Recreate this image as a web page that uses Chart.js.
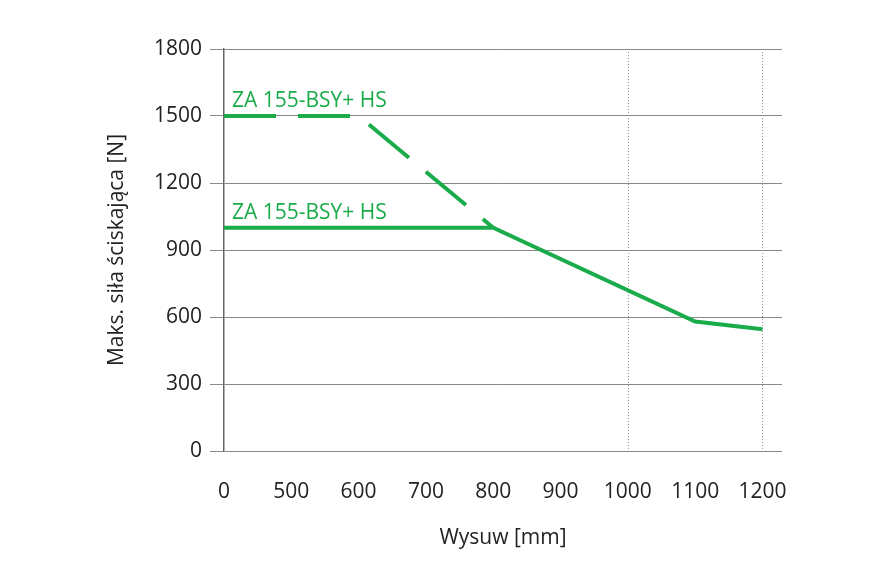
<!DOCTYPE html>
<html><head><meta charset="utf-8">
<script src="https://cdn.jsdelivr.net/npm/chart.js@4"></script>
<style>html,body{margin:0;background:#fff}#w{width:885px;height:575px}</style>
</head><body><div id="w"><canvas id="c"></canvas></div>
<script>
const xTickLabels = ['0','500','600','700','800','900','1000','1100','1200'];
const yTicks = [0,300,600,900,1200,1500,1800];
const solidX = [0, 4, 7, 8];          // index positions on x axis
const solidY = [1000, 1000, 580, 545];
const dashedX = [0, 2, 4];
const dashedY = [1500, 1500, 1000];
const seriesLabel = 'ZA 155-BSY+ HS';
const dottedGridIdx = [6, 8];
const green = '#1aab4a';
const font = "'Open Sans', 'Noto Sans', sans-serif";

const extra = {
  id:'extra',
  beforeDatasetsDraw(ch){
    const {ctx, chartArea:a, scales:{x}} = ch;
    ctx.save(); ctx.strokeStyle='#999'; ctx.lineWidth=1; ctx.setLineDash([1,2]);
    dottedGridIdx.forEach(i=>{const px=Math.round(x.getPixelForValue(i))+0.5;
      ctx.beginPath(); ctx.moveTo(px,a.top); ctx.lineTo(px,a.bottom); ctx.stroke();});
    ctx.restore();
  },
  afterDatasetsDraw(ch){
    const {ctx, scales:{x,y}} = ch;
    ctx.save(); ctx.fillStyle=green; ctx.font="21px "+font; ctx.textBaseline='bottom';
    ctx.fillText(seriesLabel, x.getPixelForValue(0)+8, y.getPixelForValue(dashedY[0])-4);
    ctx.fillText(seriesLabel, x.getPixelForValue(0)+8, y.getPixelForValue(solidY[0])-4);
    ctx.restore();
  }
};

new Chart(document.getElementById('c'), {
  type:'line',
  data:{datasets:[
    {data:solidX.map((v,i)=>({x:v,y:solidY[i]})), borderColor:green, borderWidth:4, pointRadius:0, tension:0},
    {data:dashedX.map((v,i)=>({x:v,y:dashedY[i]})), borderColor:green, borderWidth:4, borderDash:[52,22], pointRadius:0, tension:0}
  ]},
  options:{
    responsive:true, maintainAspectRatio:false, animation:false,
    layout:{padding:{top:49,right:103,left:100,bottom:20}},
    plugins:{legend:{display:false},tooltip:{enabled:false}},
    scales:{
      x:{type:'linear', min:0, max:8.29,
        afterBuildTicks(s){s.ticks=xTickLabels.map((_,i)=>({value:i}));},
        afterFit(s){s.height=104;},
        grid:{display:false}, border:{display:false},
        ticks:{callback:(v)=>xTickLabels[v], color:'#222', font:{family:font,size:21}, padding:20, autoSkip:false, maxRotation:0},
        title:{display:true, text:'Wysuw [mm]', color:'#222', font:{family:font,size:21}, padding:{top:8}}
      },
      y:{min:0, max:1800,
        afterBuildTicks(s){s.ticks=yTicks.map(v=>({value:v}));},
        afterFit(s){s.width=124;},
        grid:{color:'#888', lineWidth:1, tickLength:14},
        border:{display:true, color:'#666', width:1.5},
        ticks:{callback:(v)=>String(v), color:'#222', font:{family:font,size:21}, padding:8},
        title:{display:true, text:'Maks. siła ściskająca [N]', color:'#222', font:{family:font,size:21}, padding:{bottom:4}}
      }
    }
  },
  plugins:[extra]
});
</script></body></html>
